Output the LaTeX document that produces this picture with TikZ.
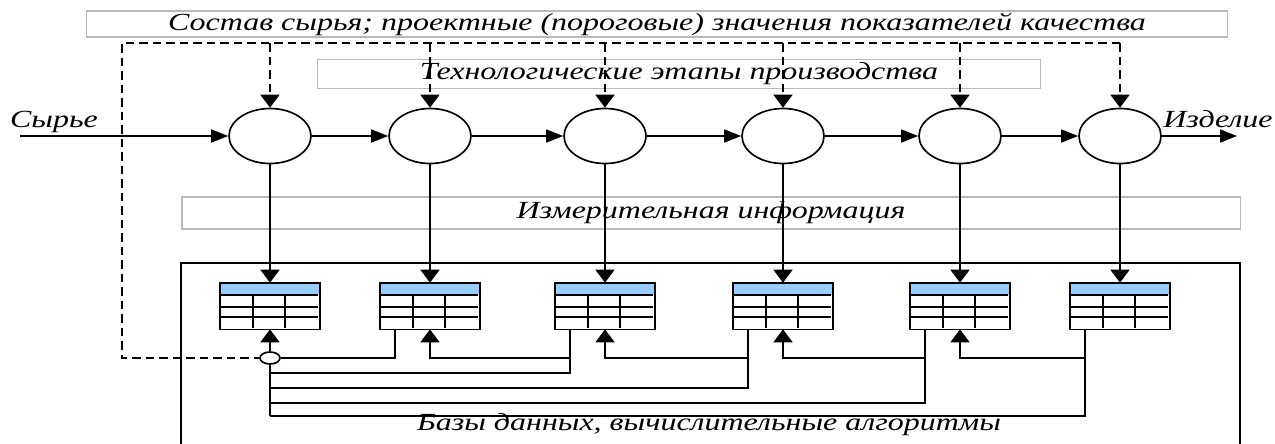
\documentclass[tikz,border=0pt]{standalone}
\usepackage{fontspec}
\setmainfont{Liberation Serif}
\newfontfamily\labfont[FakeStretch=1.3]{Liberation Serif}
\usetikzlibrary{arrows.meta,calc,shapes.geometric}

\definecolor{headblue}{HTML}{99CCFF}
\tikzset{
  lbl/.style={font=\labfont\itshape\fontsize{14}{16}\selectfont, inner sep=0pt},
  gbox/.style={lbl, draw=gray!55, line width=0.6pt},
  stage/.style={draw, ellipse, minimum width=16.4mm, minimum height=11mm, inner sep=0pt},
  tbl/.style={rectangle, minimum width=19.6mm, minimum height=9mm, inner sep=0pt},
  varrow/.style={-{Triangle[length=2.6mm,width=3.8mm]}},
  harrow/.style={-{Triangle[length=3.4mm,width=2.6mm]}},
  dline/.style={dash pattern=on 1.7mm off 1mm, line width=1pt}
}

\begin{document}
\begin{tikzpicture}[x=0.2mm, y=-0.2mm, line width=0.95pt]
        \useasboundingbox (0,0) rectangle (1275,443);

        % Text boxes
        \node[gbox, minimum width=228.2mm, minimum height=5.2mm] (spec) at (657,24)
            {Состав сырья; проектные (пороговые) значения показателей качества};
        \node[gbox, minimum width=144.6mm, minimum height=5.8mm] (tech) at (679,74)
            {Технологические этапы производства};
        \node[gbox, minimum width=211.6mm, minimum height=6.4mm] (meas) at (711,213)
            {Измерительная информация};

        % Databases frame
        \draw (181,450) |- (1240,263) -- (1240,450);
        \node[lbl] (db) at (709,425) {Базы данных, вычислительные алгоритмы};

        % Stages and tables
        \foreach \x [count=\i] in {270,430,605,783,960,1120} {
            \node[stage] (s\i) at (\x,136) {};
            \node[tbl] (t\i) at (\x,306) {};
            \fill[headblue] (t\i.north west) rectangle ($(t\i.north east)+(0,12)$);
            \draw ($(t\i.north west)+(0,12)$) -- ++(98,0)
                  ($(t\i.north west)+(0,24)$) -- ++(98,0)
                  ($(t\i.north west)+(0,34)$) -- ++(98,0)
                  ($(t\i.north west)+(33,12)$) -- ++(0,33)
                  ($(t\i.north west)+(65,12)$) -- ++(0,33);
            \draw (t\i.north west) rectangle (t\i.south east);
        }

        % Main flow
        \coordinate (inp) at (20,136);
        \coordinate (outp) at (1237,136);
        \node[lbl] (raw) at (54,122) {Сырье};
        \node[lbl] (prod) at (1218,119) {Изделие};
        \draw[harrow] (inp) -- (s1);
        \foreach \i/\j in {1/2,2/3,3/4,4/5,5/6}
            \draw[harrow] (s\i) -- (s\j);
        \draw[harrow] (s6) -- (outp);
        \foreach \i in {1,...,6}
            \draw[varrow] (s\i) -- (t\i);

        % Requirements (dashed)
        \node[draw, ellipse, fill=white, minimum width=4mm, minimum height=2.4mm, inner sep=0pt] (sm) at (270,358) {};
        \coordinate (ql) at (122,43);
        \draw[dline] (s6 |- ql) -- (ql) |- (sm);
        \foreach \i in {1,...,6}
            \draw[dline, varrow] (s\i |- ql) -- (s\i);

        % Feedback between databases
        \foreach \i in {2,...,6}
            \coordinate (o\i) at ($(t\i.south west)+(15,0)$);
        \foreach \i/\y in {3/373,4/388,5/403,6/416}
            \coordinate (r\i) at (270,\y);
        \draw (o2) |- (sm);
        \foreach \i in {3,...,6}
            \draw (o\i) |- (r\i);
        \draw (sm) -- (r6);
        \draw[varrow] (sm) -- (t1);
        \foreach \i/\j in {2/3,3/4,4/5,5/6}
            \draw[varrow] (o\j |- sm) -| (t\i);
\end{tikzpicture}
\end{document}
